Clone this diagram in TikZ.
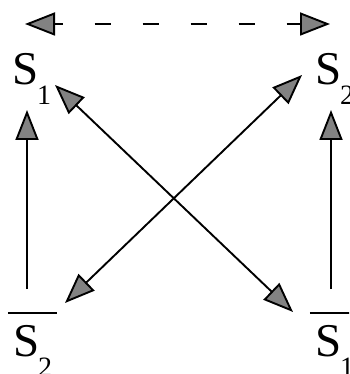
\documentclass[tikz,border=0pt]{standalone}
\usepackage{fontspec}
\setmainfont{Liberation Serif}
\usetikzlibrary{arrows.meta}
\definecolor{tipgray}{RGB}{130,130,130}
\newcommand{\slbl}[1]{S\kern-2pt\raisebox{-20pt}{\fontsize{28}{28}\selectfont #1}}
\newcommand{\nslbl}[1]{\vbox{\hrule height 1.8pt\kern12pt\hbox{\kern6pt\slbl{#1}\kern5pt}}}
\begin{document}
\begin{tikzpicture}[x=1pt,y=1pt,line width=1.9pt,
  every node/.style={inner sep=0pt,anchor=base west,font=\fontsize{47}{50}\selectfont},
  arr/.style={-{Triangle[length=30pt,width=23pt,fill=tipgray]}},
  darr/.style={{Triangle[length=30pt,width=23pt,fill=tipgray]}-{Triangle[length=30pt,width=23pt,fill=tipgray]}}]
\clip (0,0) rectangle (349,374);
\node (s1) at (12,289) {\slbl{1}};
\node (s2) at (315,289) {\slbl{2}};
\node (s2n) at (7,17) {\nslbl{2}};
\node (s1n) at (309,17) {\nslbl{1}};
\draw[darr,dash pattern=on 16pt off 32pt,dash phase=8pt] ([shift={(13,61)}]s1.base west) -- ([shift={(15,61)}]s2.base west);
\draw[arr] ([shift={(20,22)}]s2n.north west) -- ([shift={(15,-25)}]s1.base west);
\draw[arr] ([shift={(22,22)}]s1n.north west) -- ([shift={(16,-25)}]s2.base west);
\draw[darr] ([shift={(43,0)}]s1.base west) -- ([shift={(-16,45)}]s1n.base west);
\draw[darr] ([shift={(-13,10)}]s2.base west) -- ([shift={(58,54)}]s2n.base west);
\end{tikzpicture}
\end{document}
